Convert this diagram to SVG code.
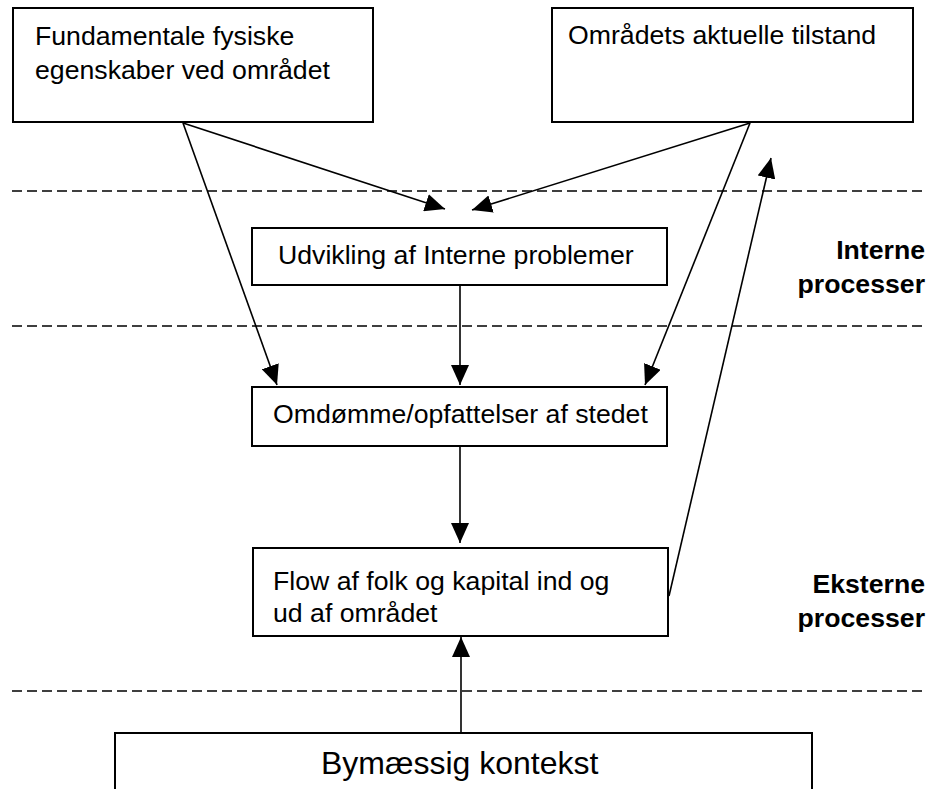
<svg xmlns="http://www.w3.org/2000/svg" width="933" height="789" viewBox="0 0 933 789">
<style>
.box{fill:#fff;stroke:#000;stroke-width:2}
.t{font-family:"Liberation Sans",Arial,sans-serif;font-size:26.67px;fill:#000}
.b{font-family:"Liberation Sans",Arial,sans-serif;font-size:26.67px;font-weight:bold;fill:#000;text-anchor:end}
.dash{stroke:#000;stroke-width:1.6;stroke-dasharray:10 5;fill:none}
.c{stroke:#000;stroke-width:1.6;fill:none}
.ca{stroke:#000;stroke-width:1.6;fill:none;marker-end:url(#ah)}
</style>
<defs>
<marker id="ah" markerUnits="userSpaceOnUse" markerWidth="20" markerHeight="18" refX="20" refY="9" orient="auto" viewBox="0 0 20 18">
<path d="M0,0 L20,9 L0,18 Z" fill="#000"/>
</marker>
</defs>
<g id="dividers">
<line class="dash" x1="12" y1="191" x2="922" y2="191"/>
<line class="dash" x1="12" y1="326" x2="922" y2="326"/>
<line class="dash" x1="12" y1="691" x2="922" y2="691"/>
</g>
<g id="labels">
<text class="b" x="925" y="259">Interne</text>
<text class="b" x="925" y="293">processer</text>
<text class="b" x="925" y="593">Eksterne</text>
<text class="b" x="925" y="627">processer</text>
</g>
<g id="connectors">
<line class="ca" x1="183" y1="123" x2="445" y2="209"/>
<line class="ca" x1="183" y1="123" x2="277" y2="385"/>
<line class="ca" x1="750" y1="123" x2="472" y2="210"/>
<line class="ca" x1="750" y1="123" x2="645" y2="385"/>
<line class="ca" x1="460" y1="285" x2="460" y2="385"/>
<line class="ca" x1="460" y1="446" x2="460" y2="543"/>
<line class="ca" x1="669" y1="596" x2="771" y2="158"/>
<line class="ca" x1="461" y1="733" x2="461" y2="637"/>
</g>
<g id="n1">
<rect class="box" x="13" y="8" width="360" height="114"/>
<text class="t" x="35" y="45">Fundamentale fysiske</text>
<text class="t" x="35" y="79">egenskaber ved området</text>
</g>
<g id="n2">
<rect class="box" x="552" y="8" width="361" height="114"/>
<text class="t" x="568" y="44">Områdets aktuelle tilstand</text>
</g>
<g id="n3">
<rect class="box" x="252" y="228" width="415" height="57"/>
<text class="t" x="278" y="264">Udvikling af Interne problemer</text>
</g>
<g id="n4">
<rect class="box" x="252" y="387" width="415" height="59"/>
<text class="t" x="273" y="423">Omdømme/opfattelser af stedet</text>
</g>
<g id="n5">
<rect class="box" x="253" y="548" width="415" height="88"/>
<text class="t" x="273" y="590">Flow af folk og kapital ind og</text>
<text class="t" x="273" y="622">ud af området</text>
</g>
<g id="n6">
<rect class="box" x="115" y="733" width="697" height="70"/>
<text class="t" x="321" y="774" style="font-size:32px">Bymæssig kontekst</text>
</g>
</svg>
